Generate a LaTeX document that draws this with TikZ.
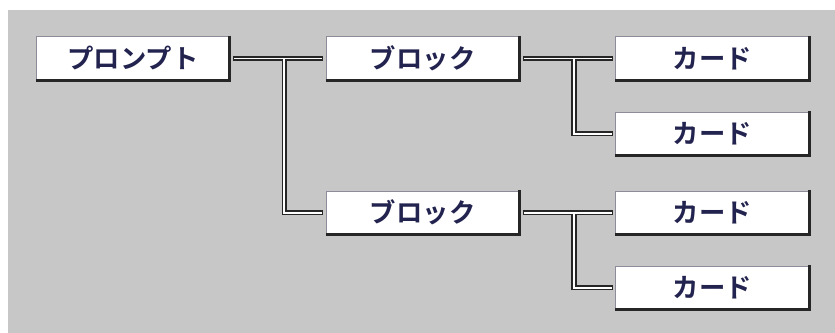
\documentclass[tikz,border=0pt]{standalone}
\usepackage{fontspec}
\usepackage{xcolor}
\usepackage{tikz}
\usetikzlibrary{positioning}
\newfontfamily\jpfont{Noto Sans CJK JP}[BoldFont={Noto Sans CJK JP Bold}]
\definecolor{panelgray}{HTML}{C7C7C7}
\definecolor{inkblue}{HTML}{23234F}
\definecolor{rimgray}{HTML}{8C8C9A}

\begin{document}
\begin{tikzpicture}[
			x=0.02cm, y=-0.02cm,
			node distance=0.62cm and 1.92cm,
			box/.style={draw=rimgray, line width=0.4pt, fill=white, rectangle, inner sep=0pt,
				minimum width=3.86cm, minimum height=0.87cm, text=inkblue,
				font=\jpfont\bfseries\fontsize{15}{17}\selectfont},
			rim/.style={line width=1.7pt, black!85},
			wire/.style={line width=2.9pt, black!85},
			core/.style={line width=1.1pt, white}
			]
			
			% Background
			\useasboundingbox (0,0) rectangle (835,333);
			\fill[panelgray] (8,10) rectangle (835,333);
			
			% Nodes
			\node (prompt) [box] at (133,58.5) {プロンプト};
			\node (block_a) [box, right=of prompt] {ブロック};
			\node (block_b) [box, below=2.2cm of block_a] {ブロック};
			\node (card_a) [box, right=of block_a] {カード};
			\node (card_b) [box, below=of card_a] {カード};
			\node (card_c) [box, right=of block_b] {カード};
			\node (card_d) [box, below=of card_c] {カード};
			
			% Shadow edges
			\foreach \n in {prompt, block_a, block_b, card_a, card_b, card_c, card_d}
				\draw [rim] ([yshift=0.4pt]\n.north east) -- (\n.south east) -- (\n.south west);
			
			% Connections
			\foreach \a/\b in {prompt/block_a, prompt/block_b, block_a/card_a, block_a/card_b, block_b/card_c, block_b/card_d}
				\draw [wire] ([xshift=2pt]\a.east) -- ++(51,0) |- ([xshift=-1.5pt]\b.west);
			\foreach \a/\b in {prompt/block_a, prompt/block_b, block_a/card_a, block_a/card_b, block_b/card_c, block_b/card_d}
				\draw [core] ([xshift=2.6pt]\a.east) -- ++(49.9,0) |- ([xshift=-2.1pt]\b.west);
			
		\end{tikzpicture}
\end{document}
